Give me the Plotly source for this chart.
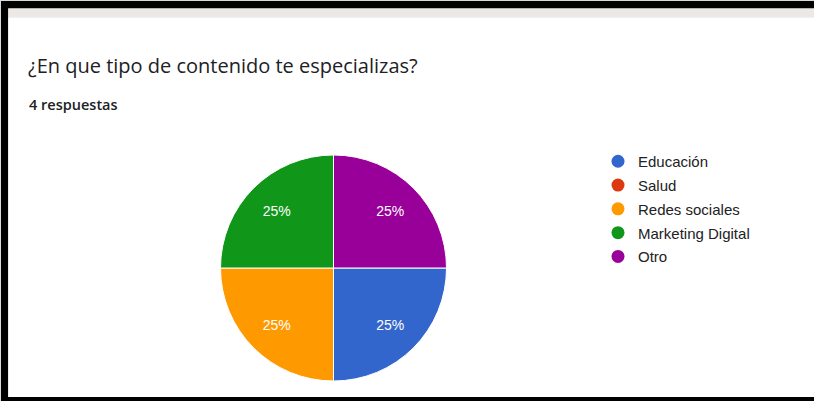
import plotly.graph_objects as go

W, H = 814, 401

title_text = "¿En que tipo de contenido te especializas?"
subtitle_text = "4 respuestas"
categories = ["Educación", "Salud", "Redes sociales", "Marketing Digital", "Otro"]
values = [1, 0, 1, 1, 1]
colors = ["#3366cc", "#dc3912", "#ff9900", "#109618", "#990099"]


def px(x):
    return x / W


def py(y):
    return 1 - y / H


pie_domain = dict(x=[px(220), px(447)], y=[py(381), py(155)])

fig = go.Figure()

# coloured slices
fig.add_trace(go.Pie(
    labels=categories,
    values=values,
    sort=False,
    direction="clockwise",
    rotation=90,
    marker=dict(colors=colors, line=dict(color="white", width=1)),
    textinfo="none",
    showlegend=False,
    hoverinfo="label+percent",
    domain=pie_domain,
))

# transparent ring carrying the percent labels (places them further out)
fig.add_trace(go.Pie(
    labels=categories,
    values=values,
    sort=False,
    direction="clockwise",
    rotation=90,
    hole=0.42,
    marker=dict(colors=["rgba(0,0,0,0)"] * len(categories), line=dict(width=0)),
    textinfo="percent",
    texttemplate="%{percent:.0%}",
    textposition="inside",
    insidetextorientation="horizontal",
    textfont=dict(color="white", size=14, family="Arial"),
    showlegend=False,
    hoverinfo="skip",
    domain=pie_domain,
))

# legend entries with circular swatches
for name, c in zip(categories, colors):
    fig.add_trace(go.Scatter(
        x=[None], y=[None], mode="markers", name=name,
        marker=dict(color=c, size=13, symbol="circle"),
        legendgroup=name, showlegend=True,
    ))

shapes = [
    dict(type="rect", x0=px(8), x1=px(9), y0=py(401), y1=py(11), fillcolor="#d9d9d9", line_width=0),
    dict(type="rect", x0=px(8), x1=px(814), y0=py(12), y1=py(11), fillcolor="#d9d9d9", line_width=0),
    dict(type="rect", x0=px(16), x1=px(814), y0=py(27), y1=py(19), fillcolor="#ece8e5", line_width=0),
    dict(type="rect", x0=px(16), x1=px(814), y0=py(28), y1=py(27), fillcolor="#e2e2e2", line_width=0),
    dict(type="rect", x0=px(9), x1=px(814), y0=py(19), y1=py(12), fillcolor="black", line_width=0),
    dict(type="rect", x0=px(9), x1=px(16), y0=py(401), y1=py(12), fillcolor="black", line_width=0),
    dict(type="rect", x0=px(9), x1=px(814), y0=py(401), y1=py(397), fillcolor="black", line_width=0),
]

fig.update_layout(
    width=W, height=H,
    margin=dict(l=0, r=0, t=0, b=0),
    paper_bgcolor="white", plot_bgcolor="white",
    xaxis=dict(visible=False), yaxis=dict(visible=False),
    shapes=shapes,
    showlegend=True,
    legend=dict(
        x=px(598), y=py(145), xanchor="left", yanchor="top",
        font=dict(family="Arial", size=15, color="#222222"),
        tracegroupgap=1.3,
        bgcolor="rgba(0,0,0,0)",
    ),
    annotations=[
        dict(text=title_text, x=px(26), y=py(66), xref="paper", yref="paper",
             xanchor="left", yanchor="middle", showarrow=False,
             font=dict(family="Open Sans", size=20, color="#202124")),
        dict(text=subtitle_text, x=px(27), y=py(104), xref="paper", yref="paper",
             xanchor="left", yanchor="middle", showarrow=False,
             font=dict(family="Open Sans", size=14.5, color="#202124", weight=600)),
    ],
)

fig.write_html("out.html")
